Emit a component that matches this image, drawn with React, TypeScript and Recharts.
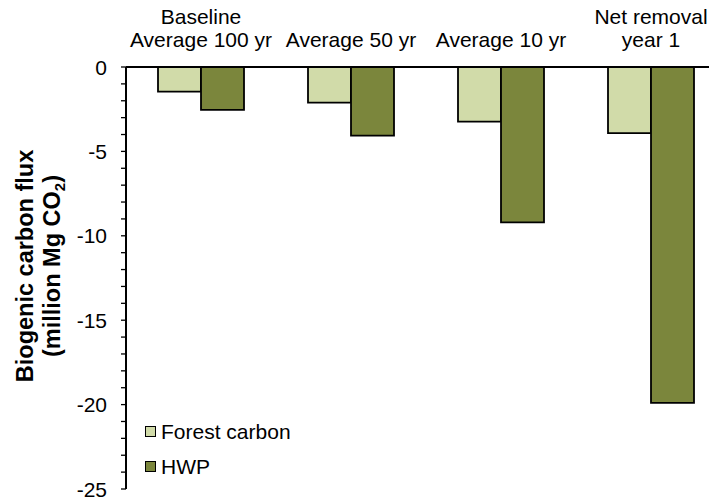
import React from 'react';
import { BarChart, Bar, XAxis, YAxis } from 'recharts';

const categoryLabels = ['Baseline\nAverage 100 yr', 'Average 50 yr', 'Average 10 yr', 'Net removal\nyear 1'];
const forestCarbon = [-1.46, -2.11, -3.24, -3.92];
const hwp = [-2.54, -4.06, -9.21, -19.9];
const yTicks = [0, -1, -2, -3, -4, -5, -6, -7, -8, -9, -10, -11, -12, -13, -14, -15, -16, -17, -18, -19, -20, -21, -22, -23, -24, -25];

const seriesNames = ['Forest carbon', 'HWP'];
const seriesColors = ['#d1dba9', '#7b863c'];

const FONT = 'Arial, "Liberation Sans", sans-serif';

const chartData = categoryLabels.map((label, i) => ({
  label,
  forest: forestCarbon[i],
  hwp: hwp[i],
}));

function CategoryTick({ x, payload }: any) {
  const lines = String(payload.value).split('\n');
  return (
    <text x={x} textAnchor="middle" fontFamily={FONT} fontSize={21} fill="#000">
      {lines.map((line, i) => (
        <tspan key={i} x={x} y={39 - (lines.length - 1 - i) * 23}>
          {line}
        </tspan>
      ))}
    </text>
  );
}

function ValueTick({ x, y, payload }: any) {
  if (payload.value % 5 !== 0) return null;
  return (
    <text x={x} y={y} dy="0.36em" textAnchor="end" fontFamily={FONT} fontSize={21} fill="#000">
      {payload.value}
    </text>
  );
}

function AxisTitle() {
  return (
    <g fontFamily={FONT} fontSize={23.5} fontWeight="bold" fill="#000">
      <text transform="translate(25,258) rotate(-90)" textAnchor="middle">
        Biogenic carbon flux
      </text>
      <text transform="translate(52,258) rotate(-90)" textAnchor="middle">
        (million Mg CO<tspan fontSize={15} dy={5}>2</tspan><tspan dy={-5}>)</tspan>
      </text>
    </g>
  );
}

function LegendBox() {
  return (
    <div style={{ position: 'absolute', left: 137, top: 406, fontFamily: FONT, fontSize: 21, color: '#000' }}>
      {seriesNames.map((name, i) => (
        <div key={name} style={{ display: 'flex', alignItems: 'center', height: 35 }}>
          <span
            style={{
              display: 'inline-block',
              width: 9,
              height: 9,
              background: seriesColors[i],
              border: '1.5px solid #000',
              marginRight: 5,
            }}
          />
          <span>{name}</span>
        </div>
      ))}
    </div>
  );
}

export default function App() {
  return (
    <div style={{ position: 'relative', width: 709, height: 491, overflow: 'hidden' }}>
      <BarChart
        width={720}
        height={491}
        data={chartData}
        margin={{ top: 0, right: 2, bottom: 10, left: 58 }}
        barCategoryGap={32}
        barGap={0}
        style={{ overflow: 'visible' }}
      >
        <XAxis
          dataKey="label"
          orientation="top"
          height={59}
          axisLine={{ stroke: '#000', strokeWidth: 2 }}
          tickLine={false}
          tick={<CategoryTick />}
          interval={0}
        />
        <YAxis
          type="number"
          domain={[-25, 0]}
          ticks={yTicks}
          interval={0}
          width={60}
          tickSize={5}
          tickMargin={14}
          axisLine={{ stroke: '#000', strokeWidth: 2 }}
          tickLine={{ stroke: '#000', strokeWidth: 1.3 }}
          tick={<ValueTick />}
        />
        <Bar dataKey="forest" name={seriesNames[0]} fill={seriesColors[0]} stroke="#000" strokeWidth={1.8} isAnimationActive={false} />
        <Bar dataKey="hwp" name={seriesNames[1]} fill={seriesColors[1]} stroke="#000" strokeWidth={1.8} isAnimationActive={false} />
        <AxisTitle />
      </BarChart>
      <LegendBox />
    </div>
  );
}
